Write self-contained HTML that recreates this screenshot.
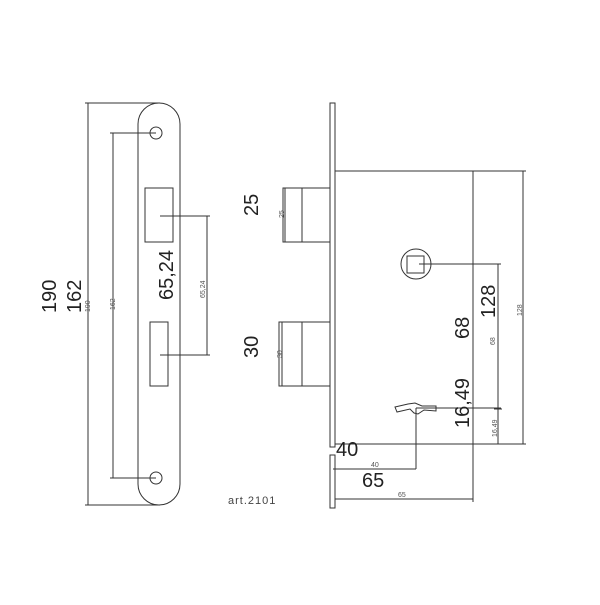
<!DOCTYPE html>
<html><head><style>html,body{margin:0;padding:0;background:#fff}</style></head><body>
<svg width="600" height="600" viewBox="0 0 600 600" xmlns="http://www.w3.org/2000/svg" font-family="Liberation Sans, sans-serif">
<rect width="600" height="600" fill="#fff"/>
<g fill="none" stroke="#333" stroke-width="1">
<!-- strike plate -->
<rect x="138" y="103" width="42" height="402" rx="21" ry="21"/>
<circle cx="156" cy="133" r="6"/>
<circle cx="156" cy="478" r="6"/>
<rect x="145" y="188" width="28" height="54"/>
<rect x="150" y="322" width="18" height="64"/>
<!-- dims plate -->
<line x1="85" y1="103" x2="160" y2="103"/>
<line x1="85" y1="505" x2="160" y2="505"/>
<line x1="88" y1="103" x2="88" y2="505"/>
<line x1="110" y1="133" x2="156" y2="133"/>
<line x1="110" y1="478" x2="156" y2="478"/>
<line x1="113" y1="133" x2="113" y2="478"/>
<line x1="160" y1="216" x2="210" y2="216"/>
<line x1="160" y1="355" x2="210" y2="355"/>
<line x1="207" y1="216" x2="207" y2="355"/>
<!-- faceplate -->
<rect x="330" y="103" width="5" height="344" />
<rect x="330" y="455" width="5" height="53" />
<!-- body -->
<line x1="335" y1="171" x2="473" y2="171"/>
<line x1="335" y1="444" x2="473" y2="444"/>
<line x1="473" y1="171" x2="473" y2="502"/>
<!-- bolts -->
<rect x="283" y="188" width="47" height="54"/>
<line x1="302" y1="188" x2="302" y2="242"/>
<line x1="285" y1="188" x2="285" y2="242"/>
<rect x="279" y="322" width="51" height="64"/>
<line x1="302" y1="322" x2="302" y2="386"/>
<line x1="282" y1="322" x2="282" y2="386"/>
<!-- spindle -->
<circle cx="416" cy="264" r="15"/>
<rect x="407" y="256" width="17" height="17"/>
<line x1="419" y1="264" x2="501" y2="264"/>
<!-- key -->
<path d="M395 407 L408 404 L415 403 L422 406 L436 406 L436 411 L424 410 L418 414 L414 413 L410 409 L397 412 Z"/>
<line x1="416" y1="408" x2="416" y2="469"/>
<line x1="416" y1="408" x2="501" y2="408"/>
<!-- right dims -->
<line x1="473" y1="171" x2="526" y2="171"/>
<line x1="473" y1="444" x2="526" y2="444"/>
<line x1="523" y1="171" x2="523" y2="444"/>
<line x1="498" y1="264" x2="498" y2="444"/>
<line x1="494" y1="409" x2="502" y2="409"/>
<!-- bottom dims -->
<line x1="333" y1="469" x2="416" y2="469"/>
<line x1="335" y1="499" x2="473" y2="499"/>
</g>
<g fill="#222" font-size="20">
<text transform="translate(56,313) rotate(-90)">190</text>
<text transform="translate(81,313) rotate(-90)">162</text>
<text transform="translate(173,300) rotate(-90)">65,24</text>
<text transform="translate(258,216) rotate(-90)">25</text>
<text transform="translate(258,358) rotate(-90)">30</text>
<text transform="translate(495,318) rotate(-90)">128</text>
<text transform="translate(469,339) rotate(-90)">68</text>
<text transform="translate(469,428) rotate(-90)">16,49</text>
<text x="336" y="456">40</text>
<text x="362" y="487">65</text>
</g>
<g fill="#555" font-size="7">
<text transform="translate(90,312) rotate(-90)">190</text>
<text transform="translate(115,310) rotate(-90)">162</text>
<text transform="translate(205,298) rotate(-90)">65,24</text>
<text transform="translate(284,218) rotate(-90)">25</text>
<text transform="translate(282,358) rotate(-90)">30</text>
<text transform="translate(495,345) rotate(-90)">68</text>
<text transform="translate(522,316) rotate(-90)">128</text>
<text transform="translate(497,437) rotate(-90)">16,49</text>
<text x="371" y="467">40</text>
<text x="398" y="497">65</text>
</g>
<text x="228" y="504" font-size="11" fill="#444" letter-spacing="1">art.2101</text>
</svg>
</body></html>
